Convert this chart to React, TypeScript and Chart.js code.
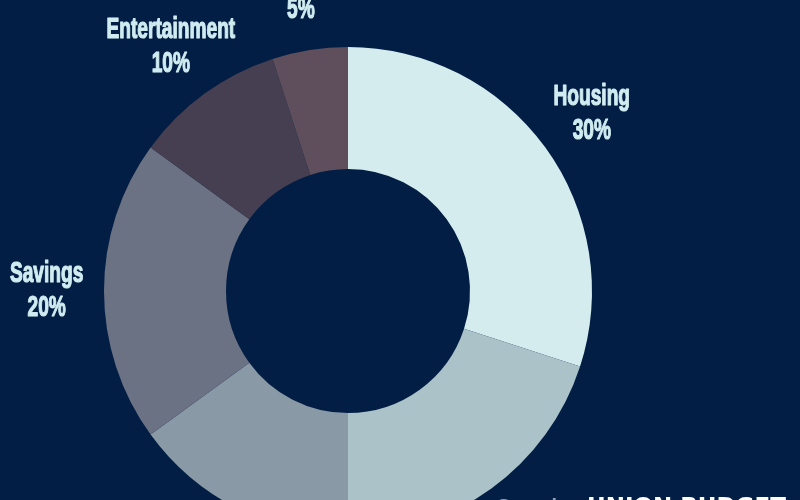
import React, { useEffect, useRef } from "react";
import { Chart, registerables } from "chart.js";

Chart.register(...registerables);

const categories = ["Housing", "Food", "Transportation", "Savings", "Entertainment", "Miscellaneous"];
const shares = [30, 20, 15, 20, 10, 5];
const sliceColors = ["#d4ecee", "#abc2c9", "#8999a6", "#6b7284", "#463f51", "#5f4f5d"];
const labeledCategories = ["Housing", "Savings", "Entertainment", "Miscellaneous"];
const footerParts = ["Sample", "UNION BUDGET"];

const BG = "#021e44";
const LABEL_COLOR = "#d0ecf0";
const FONT = "'Liberation Sans', Arial, sans-serif";
const CONDENSE = 0.66;

function condensedText(ctx: CanvasRenderingContext2D, text: string, x: number, y: number) {
  ctx.save();
  ctx.translate(x, y);
  ctx.scale(CONDENSE, 1);
  ctx.strokeText(text, 0, 0);
  ctx.fillText(text, 0, 0);
  ctx.restore();
}

const labelPlugin = {
  id: "sliceLabels",
  afterDraw(chart: any) {
    const ctx = chart.ctx as CanvasRenderingContext2D;
    const meta = chart.getDatasetMeta(0);
    ctx.save();
    ctx.fillStyle = LABEL_COLOR;
    ctx.strokeStyle = LABEL_COLOR;
    ctx.lineWidth = 1.2;
    ctx.lineJoin = "round";
    ctx.textAlign = "center";
    ctx.textBaseline = "middle";
    ctx.font = `bold 29px ${FONT}`;
    meta.data.forEach((arc: any, i: number) => {
      const name = categories[i];
      if (!labeledCategories.includes(name)) return;
      const p = arc.getProps(["x", "y", "startAngle", "endAngle", "outerRadius"], true);
      const mid = (p.startAngle + p.endAngle) / 2;
      const dist = p.outerRadius * 1.235;
      const cx = p.x + Math.cos(mid) * dist;
      const cy = p.y + Math.sin(mid) * dist;
      condensedText(ctx, name, cx, cy - 17);
      condensedText(ctx, `${shares[i]}%`, cx, cy + 17);
    });
    // footer title (mostly clipped at bottom)
    ctx.textAlign = "left";
    ctx.textBaseline = "top";
    ctx.font = `bold 20px ${FONT}`;
    ctx.fillStyle = "#8fa3b5";
    ctx.fillText(footerParts[0], 497, 497);
    ctx.font = `bold 23px 'DejaVu Sans', sans-serif`;
    ctx.fillStyle = "#ffffff";
    ctx.fillText(footerParts[1], 587, 496.5);
    ctx.restore();
  },
};

export default function App() {
  const ref = useRef<HTMLCanvasElement>(null);
  useEffect(() => {
    document.body.style.margin = "0";
    const chart = new Chart(ref.current!, {
      type: "doughnut",
      data: {
        labels: categories,
        datasets: [
          {
            data: shares,
            backgroundColor: sliceColors,
            borderWidth: 0,
          },
        ],
      },
      options: {
        responsive: false,
        animation: false,
        devicePixelRatio: 1,
        cutout: "50%",
        layout: { padding: { left: 104, right: 208, top: 47, bottom: 65 } },
        plugins: {
          legend: { display: false },
          tooltip: { enabled: false },
        },
      },
      plugins: [labelPlugin],
    });
    return () => chart.destroy();
  }, []);
  return (
    <div
      style={{
        position: "fixed",
        left: 0,
        top: 0,
        width: 800,
        height: 500,
        overflow: "hidden",
        background: BG,
      }}
    >
      <canvas ref={ref} width={800} height={600} style={{ display: "block" }} />
    </div>
  );
}
